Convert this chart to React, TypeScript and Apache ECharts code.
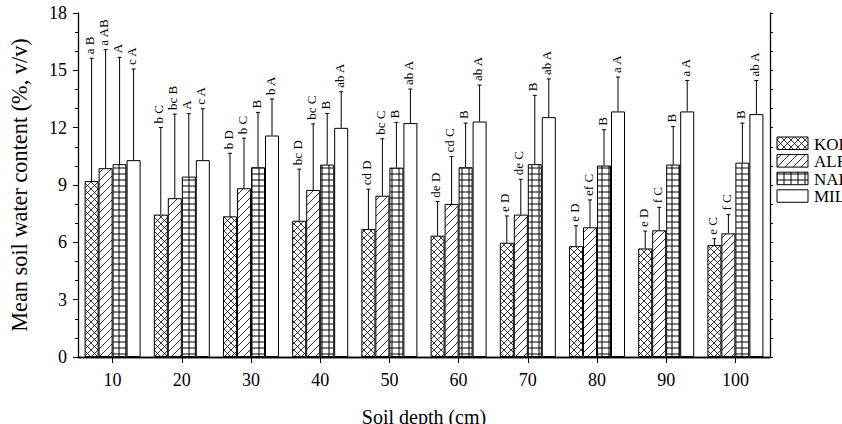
import React, { useEffect, useRef } from "react";
import * as echarts from "echarts";

const depths = ["10", "20", "30", "40", "50", "60", "70", "80", "90", "100"];
const treatments = ["KOR", "ALF", "NAR", "MIL"];

const korMean = [9.21, 7.45, 7.36, 7.13, 6.7, 6.35, 5.98, 5.8, 5.68, 5.86];
const korSd = [6.42, 4.56, 3.3, 2.7, 2.08, 1.78, 1.4, 1.07, 0.91, 0.33];
const korLabels = ["a B", "b C", "b D", "bc D", "cd D", "de D", "e D", "e D", "e D", "e C"];

const alfMean = [9.88, 8.31, 8.83, 8.74, 8.44, 8.01, 7.45, 6.79, 6.63, 6.47];
const alfSd = [6.2, 4.4, 2.62, 3.46, 2.98, 2.48, 1.85, 1.43, 1.2, 0.98];
const alfLabels = ["a AB", "bc B", "b C", "bc C", "bc C", "cd C", "de C", "ef C", "f C", "f C"];

const narMean = [10.09, 9.44, 9.93, 10.07, 9.91, 9.93, 10.09, 10.02, 10.07, 10.17];
const narSd = [5.59, 3.29, 2.87, 2.67, 2.36, 2.31, 3.6, 1.87, 1.99, 2.07];
const narLabels = ["A", "A", "B", "B", "B", "B", "B", "B", "B", "B"];

const milMean = [10.3, 10.3, 11.59, 11.99, 12.24, 12.32, 12.55, 12.85, 12.85, 12.71];
const milSd = [4.77, 2.69, 1.91, 1.89, 1.78, 1.91, 2.0, 1.8, 1.62, 1.76];
const milLabels = ["c A", "c A", "b A", "ab A", "ab A", "ab A", "ab A", "a A", "a A", "ab A"];

const yMin = 0;
const yMax = 18;
const yInterval = 3;

const means = [korMean, alfMean, narMean, milMean];
const sds = [korSd, alfSd, narSd, milSd];
const labels = [korLabels, alfLabels, narLabels, milLabels];

const BAR_W = 14;
const FONT = '"Liberation Serif", "Times New Roman", serif';

function svgUrl(w: number, h: number, body: string) {
  const svg =
    `<svg xmlns='http://www.w3.org/2000/svg' width='${w}' height='${h}'>` +
    `<rect width='${w}' height='${h}' fill='white'/>` +
    body +
    `</svg>`;
  return "data:image/svg+xml;charset=utf-8," + encodeURIComponent(svg);
}

const tiles = [
  {
    w: 7,
    h: 7,
    url: svgUrl(
      7,
      7,
      "<path d='M-1,-1L8,8M-1,8L8,-1M6,-1L8,1M-1,6L1,8M-1,1L1,-1M6,8L8,6' stroke='black' stroke-width='0.8' fill='none'/>"
    ),
  },
  {
    w: 8,
    h: 8,
    url: svgUrl(
      8,
      8,
      "<path d='M-1,9L9,-1M-1,1L1,-1M7,9L9,7' stroke='black' stroke-width='0.8' fill='none'/>"
    ),
  },
  {
    w: 7,
    h: 6,
    url: svgUrl(
      7,
      6,
      "<path d='M0,0V6M7,0V6M0,0H7M0,6H7' stroke='black' stroke-width='1' fill='none'/>"
    ),
  },
  null,
];

function fillFor(k: number, x: number, y: number): any {
  const t = tiles[k];
  if (!t) return "#ffffff";
  return {
    image: t.url,
    repeat: "repeat",
    imageWidth: t.w,
    imageHeight: t.h,
    x,
    y,
  };
}

function buildOption(centers: number[] | null): any {
  const barSeries = treatments.map((name, k) => ({
    type: "bar",
    name,
    xAxisIndex: 0,
    yAxisIndex: 0,
    barWidth: BAR_W,
    barGap: "0%",
    z: 2,
    itemStyle: { borderColor: "#000", borderWidth: 1 },
    data: means[k].map((v, i) => ({
      value: v,
      itemStyle: {
        color: fillFor(k, centers ? centers[i] + (k - 2) * BAR_W : 0, 0),
      },
    })),
  }));

  const errSeries = treatments.map((name, k) => ({
    type: "custom",
    name: name + "-err",
    xAxisIndex: 0,
    yAxisIndex: 0,
    z: 3,
    silent: true,
    data: means[k].map((m, i) => [i, m, sds[k][i]]),
    renderItem: (params: any, api: any) => {
      const idx = api.value(0);
      const m = api.value(1);
      const sd = api.value(2);
      const base = api.coord([idx, m]);
      const top = api.coord([idx, m + sd]);
      const cx = base[0] + (k - 1.5) * BAR_W;
      return {
        type: "group",
        children: [
          {
            type: "line",
            shape: { x1: cx, y1: base[1], x2: cx, y2: top[1] },
            style: { stroke: "#000", lineWidth: 1 },
          },
          {
            type: "line",
            shape: { x1: cx - 2, y1: top[1], x2: cx + 2, y2: top[1] },
            style: { stroke: "#000", lineWidth: 1 },
          },
          {
            type: "text",
            x: cx - 2,
            y: top[1] - 4,
            rotation: Math.PI / 2,
            style: {
              text: labels[k][params.dataIndex],
              font: `13px ${FONT}`,
              fontSize: 13,
              fontFamily: FONT,
              fill: "#000",
              textAlign: "left",
              textVerticalAlign: "middle",
              align: "left",
              verticalAlign: "middle",
            },
          },
        ],
      };
    },
  }));

  const legendTop = 137;
  const legendStep = 17.6;
  const graphic: any[] = [];
  treatments.forEach((name, k) => {
    const y = legendTop + k * legendStep;
    graphic.push({
      type: "rect",
      shape: { x: 777, y, width: 31, height: 12.5 },
      style: { fill: fillFor(k, 777, y), stroke: "#000", lineWidth: 1 },
    });
    graphic.push({
      type: "text",
      x: 814,
      y: y + 7,
      style: {
        text: name,
        font: `17px ${FONT}`,
        fontSize: 17,
        fontFamily: FONT,
        lineHeight: 17,
        fill: "#000",
        textVerticalAlign: "middle",
        verticalAlign: "middle",
      },
    });
  });

  return {
    animation: false,
    backgroundColor: "#ffffff",
    grid: {
      left: 78,
      right: 72,
      top: 13,
      bottom: 67,
      containLabel: false,
      outerBoundsMode: "none",
    },
    xAxis: [
      {
        type: "category",
        data: depths,
        position: "bottom",
        axisLine: { show: true, lineStyle: { color: "#000", width: 1.3 } },
        axisTick: { show: true, alignWithLabel: true, length: 6, lineStyle: { color: "#000" } },
        axisLabel: { color: "#000", fontFamily: FONT, fontSize: 18, margin: 14 },
        splitLine: { show: false },
        name: "Soil depth (cm)",
        nameLocation: "middle",
        nameGap: 50,
        nameTextStyle: { color: "#000", fontFamily: FONT, fontSize: 20 },
      },
      {
        type: "category",
        data: depths,
        position: "top",
        axisLine: { show: true, lineStyle: { color: "#000", width: 1.3 } },
        axisTick: { show: true, alignWithLabel: true, inside: true, length: 3, lineStyle: { color: "#000" } },
        axisLabel: { show: false },
        splitLine: { show: false },
      },
    ],
    yAxis: [
      {
        type: "value",
        min: yMin,
        max: yMax,
        interval: yInterval,
        position: "left",
        axisLine: { show: true, lineStyle: { color: "#000", width: 1.3 } },
        axisTick: { show: true, length: 5, lineStyle: { color: "#000" } },
        minorTick: { show: true, splitNumber: 3, length: 3, lineStyle: { color: "#000" } },
        splitLine: { show: false },
        axisLabel: { color: "#000", fontFamily: FONT, fontSize: 18, margin: 11 },
        name: "Mean soil water content (%, v/v)",
        nameLocation: "middle",
        nameGap: 48,
        nameTextStyle: { color: "#000", fontFamily: FONT, fontSize: 22.3 },
      },
      {
        type: "value",
        min: yMin,
        max: yMax,
        interval: yInterval,
        position: "right",
        axisLine: { show: true, lineStyle: { color: "#000", width: 1.3 } },
        axisTick: { show: true, length: 3, lineStyle: { color: "#000" } },
        minorTick: { show: true, splitNumber: 3, length: 3, lineStyle: { color: "#000" } },
        splitLine: { show: false },
        axisLabel: { show: false },
      },
    ],
    series: [...barSeries, ...errSeries],
    graphic,
  };
}

export default function App() {
  const ref = useRef<HTMLDivElement>(null);
  useEffect(() => {
    if (!ref.current) return;
    const chart = echarts.init(ref.current, null, { renderer: "svg" });
    chart.setOption(buildOption(null));
    const centers = depths.map((_, i) => {
      const p = chart.convertToPixel({ xAxisIndex: 0 }, i) as any;
      return typeof p === "number" ? p : Array.isArray(p) ? p[0] : 0;
    });
    chart.setOption(buildOption(centers), true);
    return () => chart.dispose();
  }, []);
  return (
    <div
      ref={ref}
      style={{ position: "fixed", left: 0, top: 0, width: 842, height: 424, background: "#fff" }}
    />
  );
}
